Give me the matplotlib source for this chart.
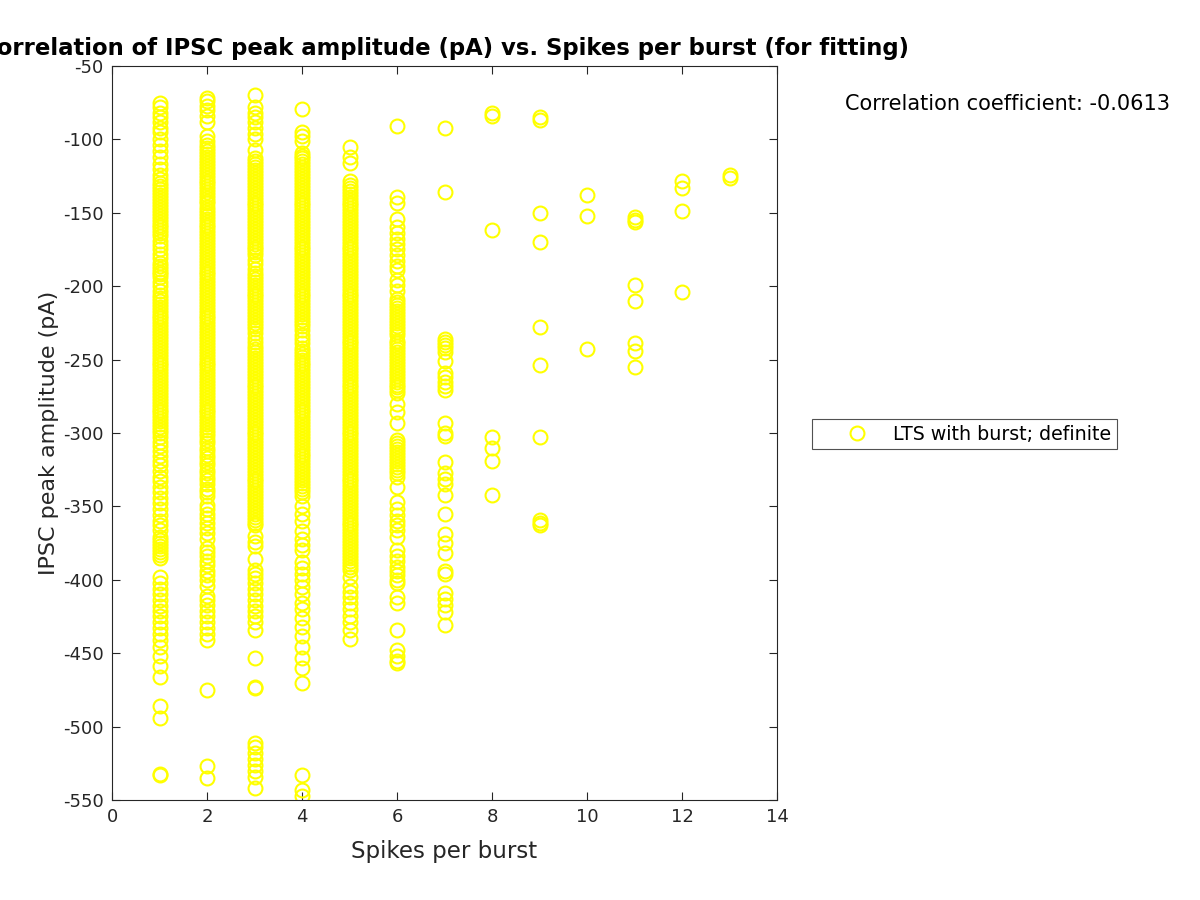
import matplotlib
matplotlib.use("Agg")
import matplotlib.pyplot as plt

plt.rcParams['font.family'] = ['DejaVu Sans']
plt.rcParams['axes.unicode_minus'] = False

spikes_1 = [-75, -78, -82, -85, -88, -92, -95, -100, -104, -108, -112, -117, -120, -124, -127,
            -130, -132, -134, -136, -138, -140, -142, -144, -146, -148, -150, -152, -154, -156, -158,
            -160, -162, -164, -166, -169, -172, -175, -178, -181, -184, -186, -188, -190, -192, -194,
            -197, -200, -203, -206, -208, -210, -212, -214, -216, -218, -220, -222, -224, -226, -228,
            -230, -232, -234, -236, -238, -240, -242, -244, -246, -248, -250, -252, -254, -256, -258,
            -260, -262, -264, -266, -268, -270, -272, -274, -276, -278, -280, -282, -284, -286, -288,
            -290, -292, -294, -296, -298, -300,
            -303, -306, -309, -312, -316, -319, -322, -326, -330, -333, -337, -340, -344, -348, -352,
            -356, -360, -363, -366, -371, -373, -375, -377, -379, -381, -383, -385,
            -398, -402, -406, -410, -414, -418, -421, -425, -429, -433, -437, -441, -446, -452, -459,
            -466, -486, -494, -532, -533]

spikes_2 = [-72, -74, -77, -80, -84, -88, -98, -101, -104,
            -106, -108, -110, -112, -114, -116, -118, -120, -122, -124, -126, -128, -130, -132, -134,
            -136, -138, -140, -142, -143,
            -146, -148, -150, -152, -154, -156, -158, -160, -162, -164, -166, -168, -170, -172, -174,
            -176, -178, -180, -182, -184, -186, -188, -190, -192, -194, -196, -198, -200, -202, -204,
            -206, -208, -210, -212, -214, -216, -218, -220, -222, -224, -226, -228, -230, -232, -234,
            -236, -238, -240, -242, -244, -246, -248, -250, -252, -254, -256, -258, -260, -262, -264,
            -266, -268, -270, -272, -274, -276, -278, -280, -282, -284, -286, -288, -290, -292, -294,
            -296, -298, -300, -302,
            -305, -307, -310, -312, -315, -317, -320, -322, -325, -327, -330, -332, -335, -338, -340, -343,
            -349, -352, -355, -358, -361, -365, -368, -372,
            -378, -381, -384, -387, -390, -394, -397, -400, -404,
            -411, -414, -417, -421, -425, -429, -433, -437, -441, -475, -527, -535]

spikes_3 = [-70, -78, -82, -85, -88, -92, -96, -100, -107,
            -113, -115, -117, -119, -121, -123, -125, -127, -129, -131, -133, -135, -137, -139, -141,
            -143, -145, -147, -149, -151, -153, -155, -157, -159, -161, -163, -165, -167, -169, -171,
            -173, -175, -177, -179, -182, -185, -188, -191,
            -193, -195, -197, -199, -201, -203, -205, -207, -209, -211, -213, -215, -217, -219, -221,
            -223, -225, -227, -229, -232, -235, -238, -241, -243,
            -245, -247, -249, -251, -253, -255, -257, -259, -261, -263, -265, -267, -269, -271, -273,
            -275, -277, -279, -281, -283, -285, -287, -289, -291, -293, -295, -297, -299, -301, -303,
            -305, -307, -309, -311, -313, -315, -317, -319, -321, -323, -325, -327, -329, -331, -333,
            -335, -337, -339, -341, -343, -345, -347, -349, -351, -353, -355, -357, -359, -361, -363,
            -370, -374, -377, -386, -393, -396, -399, -402, -406, -410, -414, -418, -421, -425, -429,
            -434, -453, -473, -474, -511, -514, -518, -522, -526, -530, -534, -542]

spikes_4 = [-79, -95, -98, -101,
            -109, -111, -113, -115, -117, -119, -121, -123, -125, -127, -129, -131, -133, -135, -137,
            -139, -141, -143, -145, -147, -149, -151, -153, -155, -157, -159, -161, -163, -165, -167,
            -169, -171, -173, -175, -177, -179, -181, -183, -185, -187, -189, -191, -193, -195, -197,
            -199, -201, -203, -205, -207, -209, -211, -213, -215, -217, -219, -221, -223, -225, -227,
            -230, -233, -236, -239, -242, -244, -246, -248, -250, -252, -254, -256, -258, -260, -262,
            -264, -266, -268, -270, -272, -274, -276, -278, -280, -282, -284, -286, -288, -290, -292,
            -294, -296, -298, -300, -302, -304, -306, -308, -310, -312, -314, -316, -318, -320, -322,
            -324, -326, -328, -330, -332, -334, -336, -338, -340, -343,
            -350, -355, -360, -367, -372, -376, -380, -388, -392, -396, -400, -405, -410, -416, -420,
            -426, -432, -438, -446, -453, -460, -470, -533, -543, -547]

spikes_5 = [-105, -112, -116, -128, -131,
            -133, -135, -137, -139, -141, -143, -145, -147, -149, -151, -153, -155, -157, -159, -161,
            -163, -165, -167, -169, -171, -173, -175, -177, -179, -181, -183, -185, -187, -189, -191,
            -193, -195, -197, -199, -201, -203, -205, -207, -209, -211, -213, -215, -217, -219, -221,
            -223, -225, -227, -229, -231, -233, -235, -237, -239, -241, -243, -245, -247, -249, -251,
            -253, -255, -257, -259, -261, -263, -265, -267, -269, -271, -273, -275, -277, -279, -281,
            -283, -285, -287, -289, -291, -293, -295, -297, -299, -301, -303, -305, -307, -309, -311,
            -313, -315, -317, -319, -321, -323, -325, -327, -329, -331, -333, -335, -337, -339, -341,
            -343, -345, -347, -349, -351, -353, -355, -357, -359, -361, -363, -365, -367, -369, -371,
            -373, -375, -377, -379, -381, -383, -385, -387, -389, -391, -393,
            -398, -404, -408, -412, -416, -420, -425, -429, -434, -440]

spikes_6 = [-91, -139, -143, -154, -160, -164, -168, -171, -175, -179, -183, -186, -189,
            -196, -199, -203, -209, -211, -213, -215, -217, -219, -221, -223, -225, -227, -229, -231,
            -233, -237, -239, -241, -243, -245, -247, -249, -251, -253, -255, -257, -259, -261, -263,
            -265, -267, -269, -271, -273, -280, -286, -293,
            -305, -307, -309, -311, -313, -315, -317, -319, -321, -323, -325, -327, -330,
            -337, -347, -352, -356, -360, -363, -366, -371, -380, -384, -387, -391, -394, -397, -400,
            -402, -412, -416, -434, -448, -452, -455, -457]

spikes_7 = [-92, -136, -236, -238, -240, -242, -245, -251, -259, -262, -265, -268, -271, -293,
            -300, -302, -320, -327, -331, -335, -342, -355, -369, -375, -382, -394, -396, -409,
            -413, -417, -422, -431]
spikes_8 = [-82, -84, -162, -303, -310, -319, -342]
spikes_9 = [-85, -87, -150, -170, -228, -254, -303, -359, -361, -363]
spikes_10 = [-138, -152, -243]
spikes_11 = [-153, -155, -156, -199, -210, -239, -244, -255]
spikes_12 = [-128, -133, -149, -204]
spikes_13 = [-124, -126]

columns = [(1, spikes_1), (2, spikes_2), (3, spikes_3), (4, spikes_4), (5, spikes_5),
           (6, spikes_6), (7, spikes_7), (8, spikes_8), (9, spikes_9), (10, spikes_10),
           (11, spikes_11), (12, spikes_12), (13, spikes_13)]

x_vals = []
y_vals = []
for xv, ys in columns:
    x_vals.extend([xv] * len(ys))
    y_vals.extend(ys)

corr_text = "Correlation coefficient: -0.0613"
title_text = "Correlation of IPSC peak amplitude (pA) vs. Spikes per burst (for fitting)"
legend_label = "LTS with burst; definite"

dark = (0.15, 0.15, 0.15)

fig = plt.figure(figsize=(12, 9), dpi=100)
ax = fig.add_axes([112 / 1200, 100 / 900, 665 / 1200, 734 / 900])
ax.plot(x_vals, y_vals, linestyle='none', marker='o', markersize=10,
        markerfacecolor='none', markeredgecolor=(1, 1, 0), markeredgewidth=1.5,
        label=legend_label)

ax.set_xlim(0, 14)
ax.set_ylim(-550, -50)
ax.set_xticks(range(0, 15, 2))
ax.set_yticks(range(-550, -49, 50))
ax.tick_params(direction='in', top=True, right=True, length=6, width=0.8,
               labelsize=13, colors=dark, labelcolor=dark, pad=6)
for s in ax.spines.values():
    s.set_color(dark)
    s.set_linewidth(0.8)

ax.set_xlabel("Spikes per burst", fontsize=16.5, color=dark, labelpad=10)
ax.set_ylabel("IPSC peak amplitude (pA)", fontsize=16, color=dark, labelpad=3)
ax.set_title(title_text, fontsize=16.4, fontweight='bold', color='black', pad=8)

fig.text(845 / 1200, 1 - 104 / 900, corr_text, fontsize=15, color='black',
         ha='left', va='center')

leg = fig.legend(loc='center left', bbox_to_anchor=(812 / 1200, 1 - 434 / 900),
                 frameon=True, fancybox=False, fontsize=13.7, handlelength=4.13,
                 handletextpad=-0.17, borderpad=0.3, borderaxespad=0)
leg.get_frame().set_edgecolor(dark)
leg.get_frame().set_linewidth(0.8)

fig.savefig("out.png", dpi=100)
